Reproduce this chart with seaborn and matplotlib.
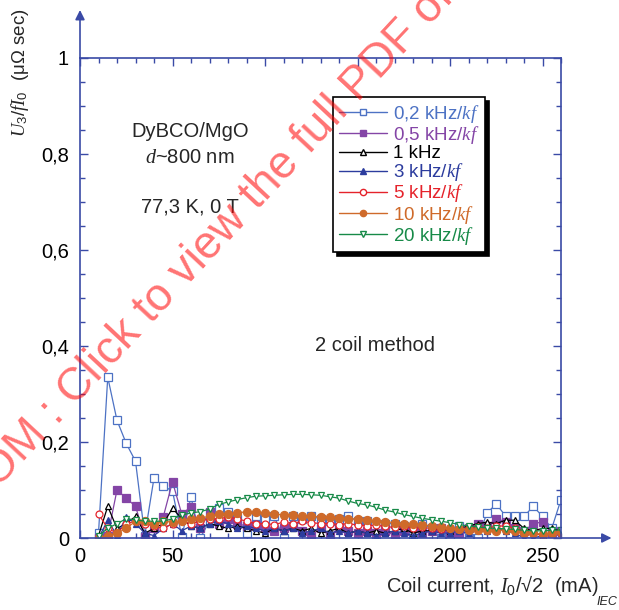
import matplotlib
matplotlib.use("Agg")
import matplotlib.pyplot as plt
from matplotlib.lines import Line2D
from matplotlib.ticker import MultipleLocator, FuncFormatter
import pandas as pd
import seaborn as sns

# Coil current I0/sqrt(2) in mA
current = [10, 15, 20, 25, 30, 35, 40, 45, 50, 55,
           60, 65, 70, 75, 80, 85, 90, 95, 100, 105,
           110, 115, 120, 125, 130, 135, 140, 145, 150, 155,
           160, 165, 170, 175, 180, 185, 190, 195, 200, 205,
           210, 215, 220, 225, 230, 235, 240, 245, 250, 255,
           260]

# U3/fI0 (micro-ohm sec) for each drive frequency
u_0_2k = [0.010, 0.335, 0.245, 0.197, 0.160, 0.005, 0.125, 0.108, 0.098, 0.003,
          0.085, 0.000, 0.035, 0.062, 0.055, 0.040, 0.010, 0.045, 0.040, 0.045,
          0.000, 0.045, 0.040, 0.045, 0.040, 0.035, 0.040, 0.045, 0.035, 0.036,
          0.000, 0.030, 0.030, 0.025, 0.000, 0.030, 0.020, 0.000, 0.000, 0.025,
          0.000, 0.000, 0.052, 0.071, 0.046, 0.045, 0.045, 0.066, 0.045, 0.020,
          0.080]
u_0_5k = [0.000, 0.005, 0.100, 0.083, 0.066, 0.003, 0.020, 0.044, 0.117, 0.050,
          0.065, 0.020, 0.055, 0.030, 0.040, 0.030, 0.025, 0.027, 0.020, 0.015,
          0.020, 0.025, 0.015, 0.005, 0.020, 0.005, 0.020, 0.015, 0.010, 0.015,
          0.010, 0.015, 0.005, 0.015, 0.020, 0.010, 0.015, 0.020, 0.010, 0.010,
          0.020, 0.030, 0.025, 0.040, 0.034, 0.020, 0.015, 0.029, 0.034, 0.010,
          0.015]
u_1k = [0.005, 0.066, 0.020, 0.030, 0.045, 0.010, 0.020, 0.030, 0.062, 0.040,
        0.025, 0.020, 0.030, 0.025, 0.020, 0.025, 0.020, 0.015, 0.010, 0.020,
        0.015, 0.020, 0.015, 0.020, 0.010, 0.015, 0.020, 0.010, 0.015, 0.010,
        0.015, 0.010, 0.015, 0.020, 0.010, 0.015, 0.015, 0.020, 0.015, 0.020,
        0.025, 0.030, 0.033, 0.030, 0.037, 0.037, 0.020, 0.015, 0.020, 0.020,
        0.015]
u_3k = [0.000, 0.037, 0.005, 0.044, 0.030, 0.010, 0.005, 0.020, 0.030, 0.015,
        0.025, 0.020, 0.030, 0.035, 0.030, 0.020, 0.025, 0.020, 0.015, 0.020,
        0.015, 0.020, 0.010, 0.015, 0.020, 0.010, 0.015, 0.010, 0.015, 0.010,
        0.005, 0.010, 0.015, 0.010, 0.005, 0.010, 0.015, 0.010, 0.010, 0.015,
        0.010, 0.020, 0.015, 0.020, 0.015, 0.010, 0.000, 0.000, 0.005, 0.010,
        0.010]
u_5k = [0.050, 0.020, 0.010, 0.030, 0.035, 0.030, 0.025, 0.020, 0.030, 0.035,
        0.030, 0.035, 0.040, 0.040, 0.044, 0.040, 0.035, 0.030, 0.030, 0.028,
        0.033, 0.030, 0.035, 0.032, 0.030, 0.030, 0.028, 0.030, 0.027, 0.025,
        0.027, 0.024, 0.022, 0.025, 0.020, 0.022, 0.020, 0.018, 0.020, 0.018,
        0.020, 0.022, 0.020, 0.025, 0.025, 0.020, 0.015, 0.010, 0.005, 0.010,
        0.010]
u_10k = [0.000, 0.005, 0.010, 0.020, 0.035, 0.035, 0.030, 0.035, 0.033, 0.035,
         0.040, 0.042, 0.045, 0.050, 0.050, 0.052, 0.055, 0.055, 0.052, 0.050,
         0.048, 0.047, 0.046, 0.045, 0.044, 0.043, 0.042, 0.040, 0.040, 0.038,
         0.036, 0.034, 0.032, 0.030, 0.029, 0.028, 0.025, 0.022, 0.020, 0.018,
         0.017, 0.017, 0.016, 0.015, 0.017, 0.015, 0.010, 0.010, 0.008, 0.010,
         0.012]
u_20k = [0.005, 0.020, 0.030, 0.040, 0.038, 0.035, 0.035, 0.035, 0.040, 0.048,
         0.052, 0.055, 0.060, 0.070, 0.075, 0.080, 0.084, 0.087, 0.088, 0.089,
         0.090, 0.091, 0.091, 0.090, 0.089, 0.086, 0.083, 0.077, 0.072, 0.069,
         0.064, 0.058, 0.054, 0.049, 0.045, 0.041, 0.038, 0.035, 0.032, 0.028,
         0.025, 0.023, 0.021, 0.020, 0.019, 0.018, 0.016, 0.015, 0.015, 0.016,
         0.017]

labels = ["0,2 kHz/$kf$", "0,5 kHz/$kf$", "1 kHz", "3 kHz/$kf$",
          "5 kHz/$kf$", "10 kHz/$kf$", "20 kHz/$kf$"]
series = [u_0_2k, u_0_5k, u_1k, u_3k, u_5k, u_10k, u_20k]

colors = ["#4D72C4", "#8445A6", "#000000", "#2C3C9E", "#E5232B", "#CF6A2A", "#178A48"]
markers = ["s", "s", "^", "^", "o", "o", "v"]
filled = [False, True, False, True, False, True, False]
msizes = [5.5, 5.5, 4.5, 5.0, 5.0, 5.8, 4.5]

df = pd.concat(
    [pd.DataFrame({"current": current, "value": vals, "series": lab})
     for lab, vals in zip(labels, series)],
    ignore_index=True,
)

sns.set_style("ticks")
plt.rcParams["font.family"] = ["Liberation Sans", "DejaVu Sans"]
plt.rcParams["mathtext.fontset"] = "custom"
plt.rcParams["mathtext.it"] = "Liberation Serif:italic"
plt.rcParams["mathtext.rm"] = "Liberation Sans"
plt.rcParams["mathtext.default"] = "it"

axis_blue = "#3A4AA6"

fig = plt.figure(figsize=(6.19, 6.10), dpi=100)
ax = fig.add_axes([80 / 619, 1 - 538 / 610, 481 / 619, 480 / 610])

for lab, col, mk, fill, ms in zip(labels, colors, markers, filled, msizes):
    sub = df[df["series"] == lab]
    sns.lineplot(data=sub, x="current", y="value", ax=ax, color=col,
                 lw=0.9, marker=mk, markersize=ms,
                 markerfacecolor=col if fill else "white",
                 markeredgecolor=col, markeredgewidth=0.9,
                 estimator=None, sort=False, legend=False)

ax.set_xlim(0, 260)
ax.set_ylim(0, 1)
ax.xaxis.set_major_locator(MultipleLocator(50))
ax.xaxis.set_minor_locator(MultipleLocator(10))
ax.yaxis.set_major_locator(MultipleLocator(0.2))
ax.yaxis.set_minor_locator(MultipleLocator(0.05))


def comma_fmt(v, pos):
    if abs(v) < 1e-9:
        return "0"
    if abs(v - 1) < 1e-9:
        return "1"
    return f"{v:.1f}".replace(".", ",")


ax.yaxis.set_major_formatter(FuncFormatter(comma_fmt))
ax.set_xlabel("")
ax.set_ylabel("")
ax.tick_params(which="both", direction="in", top=True, right=True,
               color=axis_blue, width=1.0, labelsize=14.5, labelcolor="black")
ax.tick_params(which="major", length=6)
ax.tick_params(which="minor", length=3.5)
ax.tick_params(axis="y", pad=8)
ax.tick_params(axis="x", pad=6.5)
for sp in ax.spines.values():
    sp.set_color(axis_blue)
    sp.set_linewidth(1.2)

# axis arrows beyond the frame
ax.annotate("", xy=(0, 1.10), xytext=(0, 1.0), xycoords="axes fraction",
            arrowprops=dict(arrowstyle="-|>", color=axis_blue, lw=1.2,
                            mutation_scale=14, shrinkA=0, shrinkB=0))
ax.annotate("", xy=(1.105, 0), xytext=(1.0, 0), xycoords="axes fraction",
            arrowprops=dict(arrowstyle="-|>", color=axis_blue, lw=1.2,
                            mutation_scale=14, shrinkA=0, shrinkB=0))

# sample annotations
ax.text(59.5, 0.846, "DyBCO/MgO", ha="center", va="center", fontsize=14.5)
ax.text(59.5, 0.792, "$d$~800 nm", ha="center", va="center", fontsize=14.5)
ax.text(59.5, 0.690, "77,3 K, 0 T", ha="center", va="center", fontsize=14.5)
ax.text(159.5, 0.402, "2 coil method", ha="center", va="center", fontsize=14.5)

# legend
handles = [Line2D([], [], color=c, lw=1.0, marker=m, markersize=4.5,
                  markerfacecolor=c if f else "white", markeredgecolor=c)
           for c, m, f in zip(colors, markers, filled)]
leg = ax.legend(handles, labels, loc="upper left",
                bbox_to_anchor=(333 / 619, 1 - 97 / 610),
                bbox_transform=fig.transFigure, borderaxespad=0,
                frameon=True, fancybox=False, framealpha=1, edgecolor="black",
                fontsize=13.5, handlelength=2.6, handletextpad=0.3,
                labelspacing=-0.045, borderpad=0.3,
                shadow={"ox": 3, "oy": -3, "facecolor": "black",
                        "edgecolor": "black", "alpha": 1})
leg.get_frame().set_linewidth(1.2)
for t, c in zip(leg.get_texts(), colors):
    t.set_color(c)

# axis titles
fig.text(20 / 619, 1 - 137 / 610, "$U_3/fI_0$  (μΩ sec)", rotation=90,
         ha="center", va="bottom", fontsize=13.5)
fig.text(598 / 619, 1 - 585 / 610, "Coil current, $I_0$/√2  (mA)",
         ha="right", va="center", fontsize=14.5)
fig.text(617 / 619, 1 - 602 / 610, "IEC", ha="right", va="center",
         fontsize=9, style="italic")

# overlay notice
fig.text(-2 / 619, 1 - 489 / 610, "OM : Click to view the full PDF of",
         rotation=47, rotation_mode="anchor", ha="left", va="baseline",
         fontsize=33, color="#FF0000", alpha=0.55, zorder=100)

fig.savefig("out.png", dpi=100)
